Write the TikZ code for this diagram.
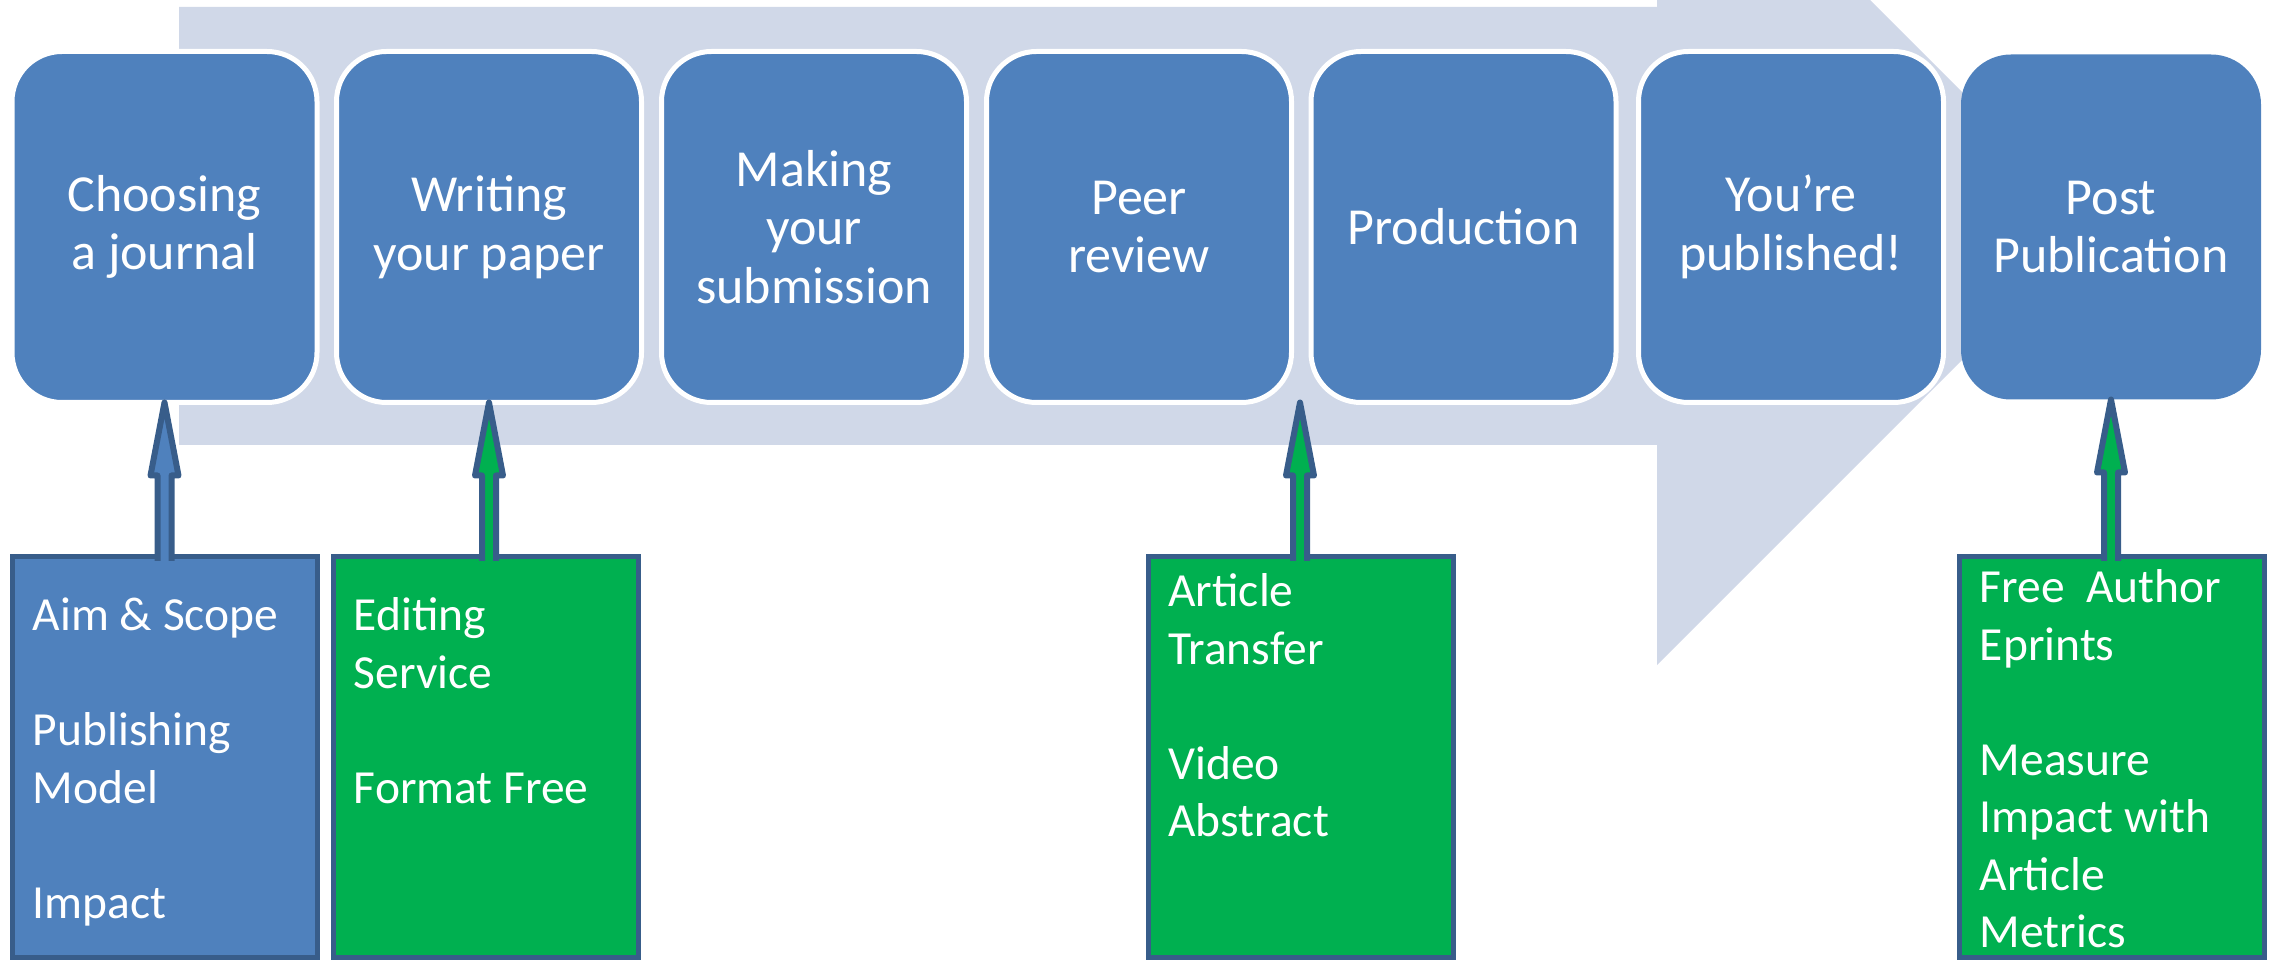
\documentclass[tikz,border=0pt]{standalone}
\usepackage{fontspec}
\setmainfont{Carlito}
\usetikzlibrary{calc}
\definecolor{boxblue}{HTML}{4F81BD}
\definecolor{boxgreen}{HTML}{00B050}
\definecolor{edgeblue}{HTML}{385D8A}
\definecolor{bandblue}{HTML}{D0D8E8}

\begin{document}
\begin{tikzpicture}[x=0.5pt, y=-0.5pt,
    stage/.style={rectangle, rounded corners=25pt, fill=boxblue, draw=white, line width=2.5pt,
        minimum width=152.5pt, minimum height=175.5pt, inner sep=0pt, outer sep=0pt,
        text=white, align=center, font=\fontsize{26}{29.25}\selectfont},
    service/.style={rectangle, fill=#1, draw=edgeblue, line width=2.5pt,
        minimum width=152.5pt, minimum height=200pt, outer sep=0pt},
    servicetext/.style={anchor=north west, inner sep=0pt, text=white, align=left,
        font=\fontsize{23.75}{28.75}\selectfont},
    uparrow/.style={draw=edgeblue, line width=3pt, line join=round}]

    \useasboundingbox (0,0) rectangle (2277,962);

    \fill[bandblue] (179,7) -- (1657,7) -- (1657,-213) -- (2096,226) -- (1657,665) -- (1657,445) -- (179,445) -- cycle;

    \node[stage] (choose)  at (164.5,227) {Choosing\\a journal};
    \node[stage] (write)   at (489,227)   {Writing\\your paper};
    \node[stage] (submit)  at (814,227)   {Making\\your\\submission};
    \node[stage] (review)  at (1139,227)  {Peer\\review};
    \node[stage] (produce) at (1463.5,227) {Production};
    \node[stage] (publish) at (1791,227)  {You’re\\published!};
    \node[stage, draw=none, minimum width=150pt, minimum height=172.5pt] (post) at (2111,227) {Post\\Publication};

    \node[service=boxblue]  (aim)      at (165,757)    {};
    \node[service=boxgreen] (edit)     at (486,757)    {};
    \node[service=boxgreen] (transfer) at (1300.5,757) {};
    \node[service=boxgreen] (eprint)   at (2112,757)   {};

    \node[servicetext] (aimtxt) at ($(aim.north west)+(20,33)$)
        {\strut Aim \& Scope\\[28.75pt] Publishing\\Model\\[28.75pt] Impact};
    \node[servicetext] (edittxt) at ($(edit.north west)+(20,33)$)
        {\strut Editing\\Service\\[28.75pt] Format Free};
    \node[servicetext] (transfertxt) at ($(transfer.north west)+(20,9)$)
        {\strut Article\\Transfer\\[28.75pt] Video\\Abstract};
    \node[servicetext] (eprinttxt) at ($(eprint.north west)+(20,5)$)
        {\strut Free\ \ Author\\Eprints\\[28.75pt] Measure\\Impact with\\Article\\Metrics};

    \coordinate (gap) at (1300,402.5);

    \foreach \src/\dst/\col in {aim/choose.south/boxblue, edit/write.south/boxgreen,
                               transfer/gap/boxgreen, eprint/post.south/boxgreen}
    \filldraw[uparrow, fill=\col] ($(\dst |- \src.north)+(-7,4)$) -- ($(\dst)+(-7,73)$) -- ($(\dst)+(-14,73)$)
        -- (\dst) -- ($(\dst)+(14,73)$) -- ($(\dst)+(7,73)$) -- ($(\dst |- \src.north)+(7,4)$);

\end{tikzpicture}
\end{document}
